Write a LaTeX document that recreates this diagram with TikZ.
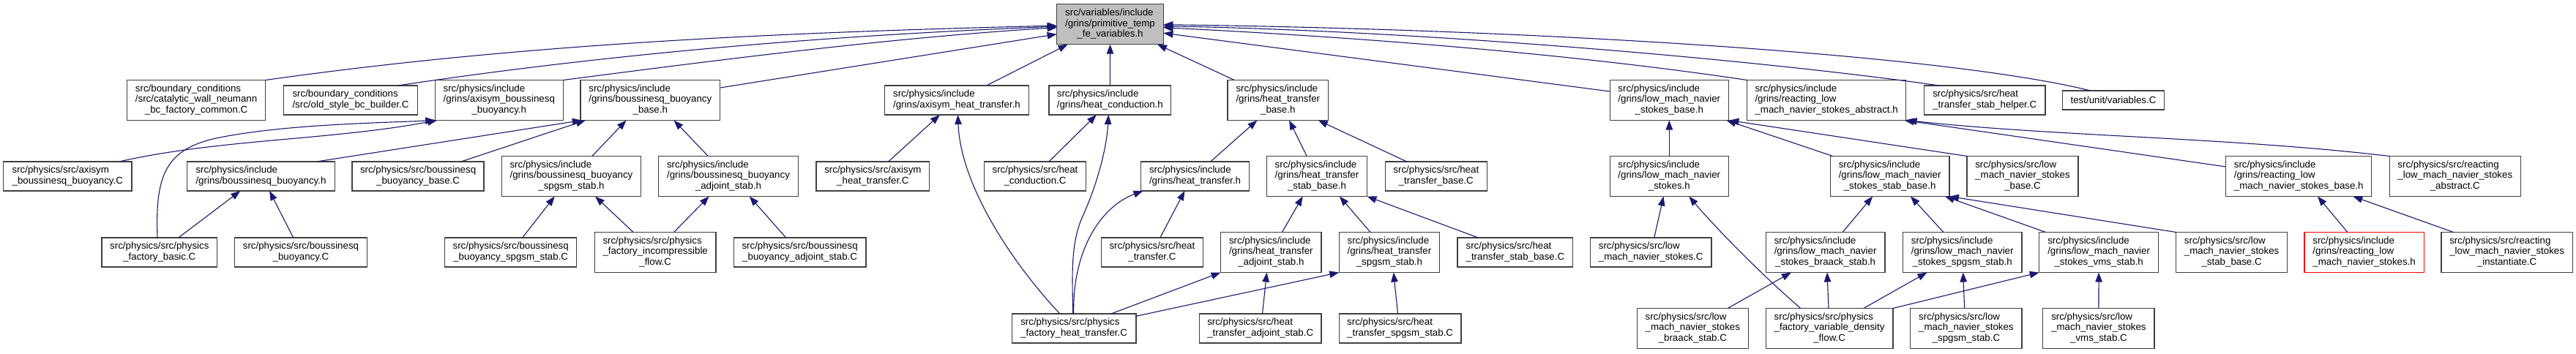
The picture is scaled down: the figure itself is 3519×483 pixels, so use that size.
\documentclass[tikz,border=0pt]{standalone}
\usepackage{fontspec}
\setmainfont{Liberation Sans}
\usetikzlibrary{arrows.meta}
\definecolor{edgecol}{HTML}{191970}
\definecolor{topfill}{HTML}{BFBFBF}
\definecolor{boxline}{HTML}{404040}
\newcommand{\twol}[2]{\begin{tabular}{@{}l@{}}#1\\\multicolumn{1}{@{}c@{}}{#2}\end{tabular}}
\newcommand{\threel}[3]{\begin{tabular}{@{}l@{}}#1\\#2\\\multicolumn{1}{@{}c@{}}{#3}\end{tabular}}
\tikzset{
  box/.style={draw=boxline, line width=1.3pt, fill=white, inner sep=0pt, outer sep=0pt,
    font=\fontsize{13.3}{14.4}\selectfont, align=center},
  hthree/.style={box, minimum height=55pt},
  htwo/.style={box, minimum height=40pt},
  hone/.style={box, minimum height=26pt},
  e/.style={draw=edgecol, line width=1.1pt, -{Triangle[length=13pt,width=9.5pt]}},
}
\begin{document}
\begin{tikzpicture}[x=1pt,y=-1pt]
\useasboundingbox[fill=white] (0,0) rectangle (3519,483);
% level 0
\node[hthree, fill=topfill, minimum width=145.8pt] (T) at (1516.5,33.2) {\threel{src/variables/include}{/grins/primitive\_temp}{\_fe\_variables.h}};
% level 1
\node[hthree, minimum width=189.4pt] (cat) at (268.1,137) {\threel{src/boundary\_conditions}{/src/catalytic\_wall\_neumann}{\_bc\_factory\_common.C}};
\node[htwo, minimum width=182.5pt] (old) at (479,137) {\twol{src/boundary\_conditions}{/src/old\_style\_bc\_builder.C}};
\node[hthree, minimum width=175.2pt] (abbh) at (681.8,137) {\threel{src/physics/include}{/grins/axisym\_boussinesq}{\_buoyancy.h}};
\node[hthree, minimum width=190.9pt] (bbbh) at (888.3,137) {\threel{src/physics/include}{/grins/boussinesq\_buoyancy}{\_base.h}};
\node[htwo, minimum width=197.5pt] (ahth) at (1307,137) {\twol{src/physics/include}{/grins/axisym\_heat\_transfer.h}};
\node[htwo, minimum width=166.8pt] (hch) at (1516.3,137) {\twol{src/physics/include}{/grins/heat\_conduction.h}};
\node[hthree, minimum width=137.6pt] (htbh) at (1745.8,137) {\threel{src/physics/include}{/grins/heat\_transfer}{\_base.h}};
\node[hthree, minimum width=162.1pt] (lmbh) at (2280.3,137) {\threel{src/physics/include}{/grins/low\_mach\_navier}{\_stokes\_base.h}};
\node[hthree, minimum width=217pt] (rabsh) at (2495.1,137) {\threel{src/physics/include}{/grins/reacting\_low}{\_mach\_navier\_stokes\_abstract.h}};
\node[htwo, minimum width=165.3pt] (helper) at (2711.2,137) {\twol{src/physics/src/heat}{\_transfer\_stab\_helper.C}};
\node[hone, minimum width=139pt] (test) at (2887,137) {test/unit/variables.C};
% level 2
\node[htwo, minimum width=175.3pt] (abbC) at (92.3,241) {\twol{src/physics/src/axisym}{\_boussinesq\_buoyancy.C}};
\node[htwo, minimum width=201.7pt] (bbh) at (356.5,241) {\twol{src/physics/include}{/grins/boussinesq\_buoyancy.h}};
\node[htwo, minimum width=180pt] (bbbC) at (571.1,241) {\twol{src/physics/src/boussinesq}{\_buoyancy\_base.C}};
\node[hthree, minimum width=190.6pt] (bbsh) at (780.5,241) {\threel{src/physics/include}{/grins/boussinesq\_buoyancy}{\_spgsm\_stab.h}};
\node[hthree, minimum width=190.9pt] (bbah) at (995,241) {\threel{src/physics/include}{/grins/boussinesq\_buoyancy}{\_adjoint\_stab.h}};
\node[htwo, minimum width=154.8pt] (ahtC) at (1192.4,241) {\twol{src/physics/src/axisym}{\_heat\_transfer.C}};
\node[htwo, minimum width=138.9pt] (hcC) at (1414,241) {\twol{src/physics/src/heat}{\_conduction.C}};
\node[htwo, minimum width=148.1pt] (hth) at (1632.5,241) {\twol{src/physics/include}{/grins/heat\_transfer.h}};
\node[hthree, minimum width=136.8pt] (htsbh) at (1799,241) {\threel{src/physics/include}{/grins/heat\_transfer}{\_stab\_base.h}};
\node[htwo, minimum width=138.9pt] (htbC) at (1961.8,241) {\twol{src/physics/src/heat}{\_transfer\_base.C}};
\node[hthree, minimum width=162.1pt] (lmh) at (2280.3,241) {\threel{src/physics/include}{/grins/low\_mach\_navier}{\_stokes.h}};
\node[hthree, minimum width=162.6pt] (lmsbh) at (2581.6,241) {\threel{src/physics/include}{/grins/low\_mach\_navier}{\_stokes\_stab\_base.h}};
\node[hthree, minimum width=151.9pt] (lmbC) at (2763,241) {\threel{src/physics/src/low}{\_mach\_navier\_stokes}{\_base.C}};
\node[hthree, minimum width=199pt] (rbh) at (3140.2,241) {\threel{src/physics/include}{/grins/reacting\_low}{\_mach\_navier\_stokes\_base.h}};
\node[hthree, minimum width=179.1pt] (rabsC) at (3353.8,241) {\threel{src/physics/src/reacting}{\_low\_mach\_navier\_stokes}{\_abstract.C}};
% level 3
\node[htwo, minimum width=157.7pt] (pfbC) at (217.8,345) {\twol{src/physics/src/physics}{\_factory\_basic.C}};
\node[htwo, minimum width=180.6pt] (bbC) at (411,345) {\twol{src/physics/src/boussinesq}{\_buoyancy.C}};
\node[htwo, minimum width=180.2pt] (bbsC) at (697.7,345) {\twol{src/physics/src/boussinesq}{\_buoyancy\_spgsm\_stab.C}};
\node[hthree, minimum width=165.7pt] (pfiC) at (895.2,345) {\threel{src/physics/src/physics}{\_factory\_incompressible}{\_flow.C}};
\node[htwo, minimum width=180.9pt] (bbaC) at (1092.6,345) {\twol{src/physics/src/boussinesq}{\_buoyancy\_adjoint\_stab.C}};
\node[htwo, minimum width=139pt] (htC) at (1573.9,345) {\twol{src/physics/src/heat}{\_transfer.C}};
\node[hthree, minimum width=137.5pt] (htah) at (1736.3,345) {\threel{src/physics/include}{/grins/heat\_transfer}{\_adjoint\_stab.h}};
\node[hthree, minimum width=137.4pt] (htsh) at (1897.9,345) {\threel{src/physics/include}{/grins/heat\_transfer}{\_spgsm\_stab.h}};
\node[htwo, minimum width=157.7pt] (htsbC) at (2069.9,345) {\twol{src/physics/src/heat}{\_transfer\_stab\_base.C}};
\node[htwo, minimum width=165.3pt] (lmC) at (2255.2,345) {\twol{src/physics/src/low}{\_mach\_navier\_stokes.C}};
\node[hthree, minimum width=162.7pt] (lmbrh) at (2493.6,345) {\threel{src/physics/include}{/grins/low\_mach\_navier}{\_stokes\_braack\_stab.h}};
\node[hthree, minimum width=162.6pt] (lmsh) at (2680.7,345) {\threel{src/physics/include}{/grins/low\_mach\_navier}{\_stokes\_spgsm\_stab.h}};
\node[hthree, minimum width=162.8pt] (lmvh) at (2867.1,345) {\threel{src/physics/include}{/grins/low\_mach\_navier}{\_stokes\_vms\_stab.h}};
\node[hthree, minimum width=151.9pt] (lmsbC) at (3048.6,345) {\threel{src/physics/src/low}{\_mach\_navier\_stokes}{\_stab\_base.C}};
\node[hthree, draw=red, minimum width=163.4pt] (rh) at (3229.6,345) {\threel{src/physics/include}{/grins/reacting\_low}{\_mach\_navier\_stokes.h}};
\node[hthree, minimum width=179.1pt] (rinstC) at (3424.6,345) {\threel{src/physics/src/reacting}{\_low\_mach\_navier\_stokes}{\_instantiate.C}};
% level 4
\node[htwo, minimum width=169.6pt] (pfhtC) at (1467.1,449) {\twol{src/physics/src/physics}{\_factory\_heat\_transfer.C}};
\node[htwo, minimum width=166.6pt] (htaC) at (1721.7,449) {\twol{src/physics/src/heat}{\_transfer\_adjoint\_stab.C}};
\node[htwo, minimum width=166.8pt] (htsC) at (1912.6,449) {\twol{src/physics/src/heat}{\_transfer\_spgsm\_stab.C}};
\node[hthree, minimum width=151.7pt] (lmbrC) at (2312.3,449) {\threel{src/physics/src/low}{\_mach\_navier\_stokes}{\_braack\_stab.C}};
\node[hthree, minimum width=173.8pt] (pfvC) at (2499.1,449) {\threel{src/physics/src/physics}{\_factory\_variable\_density}{\_flow.C}};
\node[hthree, minimum width=152.3pt] (lmsC) at (2685.9,449) {\threel{src/physics/src/low}{\_mach\_navier\_stokes}{\_spgsm\_stab.C}};
\node[hthree, minimum width=152.4pt] (lmvC) at (2866.9,449) {\threel{src/physics/src/low}{\_mach\_navier\_stokes}{\_vms\_stab.C}};
% edges to top node
\draw[e] (cat.north east) .. controls (722.8,58.5) and (1083.6,44) .. ([yshift=-1.8pt]T.west);
\draw[e] ([xshift=64.4pt]old.north) .. controls (843,72) and (1143.6,48) .. ([yshift=-3pt]T.west);
\draw[e] (abbh.north east) .. controls (989.4,80.9) and (1223.6,51) .. ([yshift=-4.5pt]T.west);
\draw[e] ([yshift=17pt]bbbh.east) -- ([yshift=-13.5pt]T.west);
\draw[e] ([xshift=-31.2pt]test.north) .. controls (2655.8,74) and (2089.4,40) .. ([yshift=-0.5pt]T.east);
\draw[e] ([xshift=-62.2pt]helper.north) .. controls (2399,81.2) and (1939.4,42) .. ([yshift=-2.5pt]T.east);
\draw[e] (rabsh.north west) .. controls (2136.6,72) and (1839.4,50) .. ([yshift=-4.5pt]T.east);
\draw[e] ([yshift=12pt]lmbh.west) -- ([yshift=-12pt]T.east);
\draw[e] ([xshift=40.5pt]ahth.north) -- ([xshift=15pt]T.south west);
\draw[e] (hch.north) -- (T.south);
\draw[e] ([xshift=9.2pt]htbh.north west) -- ([xshift=-8.4pt]T.south east);
% level 2 to level 1
\draw[e] ([xshift=70.3pt]abbC.north) .. controls (300,190) and (450,192) .. ([xshift=3pt]abbh.south west);
\draw[e] ([xshift=-2.8pt]pfbC.north) .. controls (212,240) and (225,203) .. (300,188) .. controls (390,170) and (520,168) .. (abbh.south west);
\draw[e] ([xshift=76pt]bbh.north) -- ([xshift=2pt]bbbh.south west);
\draw[e] ([xshift=58.7pt]bbbC.north) -- ([xshift=7pt]bbbh.south west);
\draw[e] ([xshift=28.3pt]bbsh.north) -- ([xshift=-32.8pt]bbbh.south);
\draw[e] ([xshift=-27.7pt]bbah.north) -- ([xshift=32.3pt]bbbh.south);
\draw[e] ([xshift=21.2pt]ahtC.north) -- ([xshift=-23.2pt]ahth.south);
\draw[e] ([xshift=-19.3pt]pfhtC.north) .. controls (1377.8,354) and (1312,250) .. ([xshift=1.5pt]ahth.south);
\draw[e] ([xshift=18.9pt]hcC.north) -- ([xshift=-18.5pt]hch.south);
\draw[e] ([xshift=-1.4pt]pfhtC.north) .. controls (1465,380) and (1462,335) .. (1478,298) .. controls (1500,250) and (1512,200) .. ([xshift=-2pt]hch.south);
\draw[e] ([xshift=21.2pt]hth.north) -- ([xshift=-28.5pt]htbh.south);
\draw[e] ([xshift=-13.8pt]htsbh.north) -- ([xshift=15.3pt]htbh.south);
\draw[e] ([xshift=-40pt]htbC.north) -- ([xshift=55pt]htbh.south);
\draw[e] (lmh.north) -- (lmbh.south);
\draw[e] ([xshift=-77.9pt]lmsbh.north) -- ([xshift=-3pt]lmbh.south east);
\draw[e] (lmbC.north west) -- ([xshift=1pt]lmbh.south east);
\draw[e] ([yshift=13pt]rbh.west) -- ([xshift=-2pt]rabsh.south east);
\draw[e] (rabsC.north west) .. controls (3050,188) and (2800,186) .. ([xshift=2pt]rabsh.south east);
% level 3 to level 2
\draw[e] ([xshift=26pt]pfbC.north) -- ([xshift=-28.2pt]bbh.south);
\draw[e] ([xshift=-10.3pt]bbC.north) -- ([xshift=11.6pt]bbh.south);
\draw[e] ([xshift=15.9pt]bbsC.north) -- ([xshift=-22.8pt]bbsh.south);
\draw[e] ([xshift=-30.1pt]pfiC.north) -- ([xshift=32.6pt]bbsh.south);
\draw[e] ([xshift=25.4pt]pfiC.north) -- ([xshift=-26.4pt]bbah.south);
\draw[e] ([xshift=-18.9pt]bbaC.north) -- ([xshift=28.8pt]bbah.south);
\draw[e] ([xshift=10.9pt]htC.north) -- ([xshift=-14.1pt]hth.south);
\draw[e] ([xshift=-0.4pt]pfhtC.north) .. controls (1465,340) and (1505,282) .. ([xshift=3pt]hth.south west);
\draw[e] ([xshift=50.7pt]pfhtC.north) -- (htah.south west);
\draw[e] ([yshift=16.7pt]pfhtC.east) -- (htsh.south west);
\draw[e] ([xshift=2.8pt]htaC.north) -- ([xshift=-5.8pt]htah.south);
\draw[e] ([xshift=-3.1pt]htsC.north) -- ([xshift=5.8pt]htsh.south);
\draw[e] ([xshift=15.2pt]htah.north) -- ([xshift=-19.4pt]htsbh.south);
\draw[e] ([xshift=-25.9pt]htsh.north) -- ([xshift=30.9pt]htsbh.south);
\draw[e] ([xshift=-50.5pt]htsbC.north) -- (htsbh.south east);
\draw[e] ([xshift=4.5pt]lmC.north) -- ([xshift=-7.8pt]lmh.south);
\draw[e] ([xshift=-39.4pt]pfvC.north) .. controls (2400,370) and (2338,305) .. ([xshift=27pt]lmh.south);
\draw[e] ([xshift=23.5pt]lmbrh.north) -- ([xshift=-23.5pt]lmsbh.south);
\draw[e] ([xshift=-25.8pt]lmsh.north) -- ([xshift=28.3pt]lmsbh.south);
\draw[e] ([xshift=8.9pt]lmvh.north west) -- ([xshift=-6pt]lmsbh.south east);
\draw[e] (lmsbC.north west) -- (lmsbh.south east);
\draw[e] ([xshift=-22.8pt]rh.north) -- ([xshift=25.8pt]rbh.south);
\draw[e] ([xshift=-73.1pt]rinstC.north) -- ([xshift=74.1pt]rbh.south);
% level 4 to level 3
\draw[e] ([xshift=47.9pt]lmbrC.north) -- ([xshift=-46.7pt]lmbrh.south);
\draw[e] ([xshift=-1.1pt]pfvC.north) -- ([xshift=2.4pt]lmbrh.south);
\draw[e] ([xshift=46.7pt]pfvC.north) -- ([xshift=-48.3pt]lmsh.south);
\draw[e] (pfvC.north east) -- (lmvh.south west);
\draw[e] ([xshift=-2.3pt]lmsC.north) -- ([xshift=1pt]lmsh.south);
\draw[e] (lmvC.north) -- (lmvh.south);
\end{tikzpicture}
\end{document}
